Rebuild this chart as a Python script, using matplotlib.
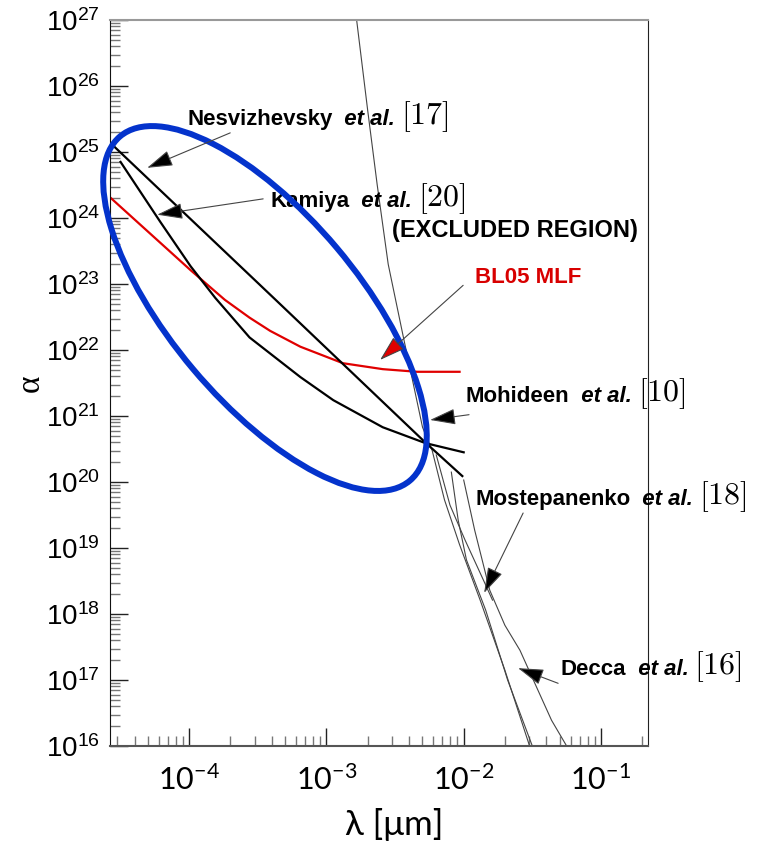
import numpy as np
import matplotlib
matplotlib.use('Agg')
import matplotlib.pyplot as plt
from matplotlib.patches import Ellipse
from matplotlib.transforms import Affine2D
from matplotlib.ticker import LogLocator, NullFormatter

plt.rcParams['axes.unicode_minus'] = False

# curves: log10(lambda [um]) and log10(alpha)
nesv_lx = [-4.55, -3.37, -2.28, -2.01]
nesv_ly = [25.09, 22.76, 20.60, 20.09]

kam_lx = [-4.50, -4.21, -3.99, -3.81, -3.56, -3.19, -2.95, -2.59, -2.28, -2.00]
kam_ly = [24.85, 23.94, 23.27, 22.79, 22.19, 21.59, 21.24, 20.83, 20.59, 20.45]

bl05_lx = [-4.58, -3.99, -3.74, -3.56, -3.41, -3.19, -2.88, -2.59, -2.34, -2.03]
bl05_ly = [24.32, 23.21, 22.76, 22.49, 22.29, 22.05, 21.80, 21.71, 21.67, 21.67]

moh_lx = [-2.78, -2.70, -2.63, -2.55, -2.44, -2.30, -2.23, -2.14, -2.03, -1.88, -1.70, -1.52]
moh_ly = [27.00, 25.64, 24.50, 23.30, 22.20, 20.83, 20.48, 19.73, 19.05, 18.21, 17.15, 16.00]

most_lx = [-2.09, -2.04, -1.98, -1.84, -1.68, -1.50]
most_ly = [20.15, 19.42, 18.82, 18.06, 17.00, 16.00]

decca_lx = [-2.00, -1.92, -1.81, -1.70, -1.59, -1.46, -1.36, -1.25]
decca_ly = [20.03, 19.27, 18.36, 17.83, 17.45, 16.85, 16.39, 16.00]

extra_lx = [-2.20, -2.10, -1.99, -1.84, -1.79]
extra_ly = [20.41, 19.65, 19.12, 18.44, 18.21]


def p(v):
    return 10 ** np.array(v)


fig = plt.figure(figsize=(7.59, 8.44), dpi=100)
ax = fig.add_axes([0.1449, 0.1161, 0.7089, 0.8602])
ax.set_xscale('log')
ax.set_yscale('log')
ax.set_xlim(10 ** -4.577, 10 ** -0.657)
ax.set_ylim(1e16, 1e27)

# thin grey constraint lines
for lx, ly in [(moh_lx, moh_ly), (most_lx, most_ly), (decca_lx, decca_ly), (extra_lx, extra_ly)]:
    ax.plot(p(lx), p(ly), color='#444444', lw=0.8)

ax.plot(p(bl05_lx), p(bl05_ly), color='#e00000', lw=1.6)
ax.plot(p(nesv_lx), p(nesv_ly), color='black', lw=1.6)
ax.plot(p(kam_lx), p(kam_ly), color='black', lw=1.6)

# blue highlight ellipse (drawn in axes pixel units)
ax_w = 7.59 * 100 * 0.7089
ax_h = 8.44 * 100 * 0.8602
tr = Affine2D().scale(1 / ax_w, 1 / ax_h) + ax.transAxes
ax.add_patch(Ellipse((155, 437.5), 450, 188, angle=-49.9, transform=tr,
                     fill=False, ec='#0433cc', lw=4.3, clip_on=False, zorder=5))

# ticks and spines
ax.yaxis.set_major_locator(LogLocator(base=10, numticks=20))
ax.yaxis.set_minor_locator(LogLocator(base=10, subs=np.arange(2, 10), numticks=20))
ax.yaxis.set_minor_formatter(NullFormatter())
ax.xaxis.set_minor_formatter(NullFormatter())
ax.tick_params(which='both', direction='in', top=False, right=False)
ax.tick_params(which='major', length=13, width=1, color='#222222')
ax.tick_params(which='minor', length=7, width=1, color='#777777')
ax.tick_params(axis='y', labelsize=20, pad=7, labelfontfamily='Liberation Sans')
ax.tick_params(axis='x', labelsize=22, pad=13, labelfontfamily='Lato')
ax.spines['top'].set_color('#999999')
ax.spines['top'].set_linewidth(1.5)
ax.spines['right'].set_color('#222222')
ax.spines['left'].set_color('#111111')
ax.spines['bottom'].set_color('#555555')
ax.spines['bottom'].set_linewidth(1.5)

ax.set_ylabel('α', fontsize=24, family='Liberation Serif')
ax.yaxis.set_label_coords(-0.12, 0.5)
ax.set_xlabel('λ [μm]', fontsize=25, family=['Lato', 'DejaVu Sans'])
ax.xaxis.set_label_coords(0.528, -0.085)


def label(lx, ly, name, ref=None, color='black', size=16):
    t = ax.text(10 ** lx, 10 ** ly, name, fontsize=size, fontweight='bold',
                family='Liberation Sans', color=color, va='baseline')
    if ref is None:
        return
    t = ax.annotate('  et al. ', xy=(1, 0), xycoords=t, va='bottom', fontsize=size,
                    fontweight='bold', fontstyle='italic', family='Liberation Sans')
    ax.annotate('$[%s]$' % ref, xy=(1, 0), xycoords=t, xytext=(0, -3),
                textcoords='offset points', va='bottom', fontsize=23, math_fontfamily='cm')


def arrow(tip, tail, head='black'):
    ax.annotate('', xy=(10 ** tip[0], 10 ** tip[1]), xytext=(10 ** tail[0], 10 ** tail[1]),
                arrowprops=dict(arrowstyle='-|>,head_length=1.6,head_width=0.5',
                                mutation_scale=10, ec='#444444', fc=head, lw=0.8,
                                shrinkA=0, shrinkB=0), zorder=6)


label(-4.015, 25.41, 'Nesvizhevsky', '17')
arrow((-4.306, 24.76), (-3.701, 25.29))
label(-3.410, 24.17, 'Kamiya', '20')
arrow((-4.233, 24.05), (-3.461, 24.29))
label(-2.521, 23.71, '(EXCLUDED REGION)', size=17)
label(-1.917, 23.02, 'BL05 MLF', color='#d80000')
arrow((-2.609, 21.85), (-2.004, 22.98), head='#e00000')
label(-1.990, 21.21, 'Mohideen', '10')
arrow((-2.245, 20.94), (-1.961, 21.02))
label(-1.917, 19.65, 'Mostepanenko', '18')
arrow((-1.851, 18.32), (-1.567, 19.53))
label(-1.298, 17.08, 'Decca', '16')
arrow((-1.604, 17.18), (-1.312, 16.95))

fig.savefig('out.png', dpi=100)
